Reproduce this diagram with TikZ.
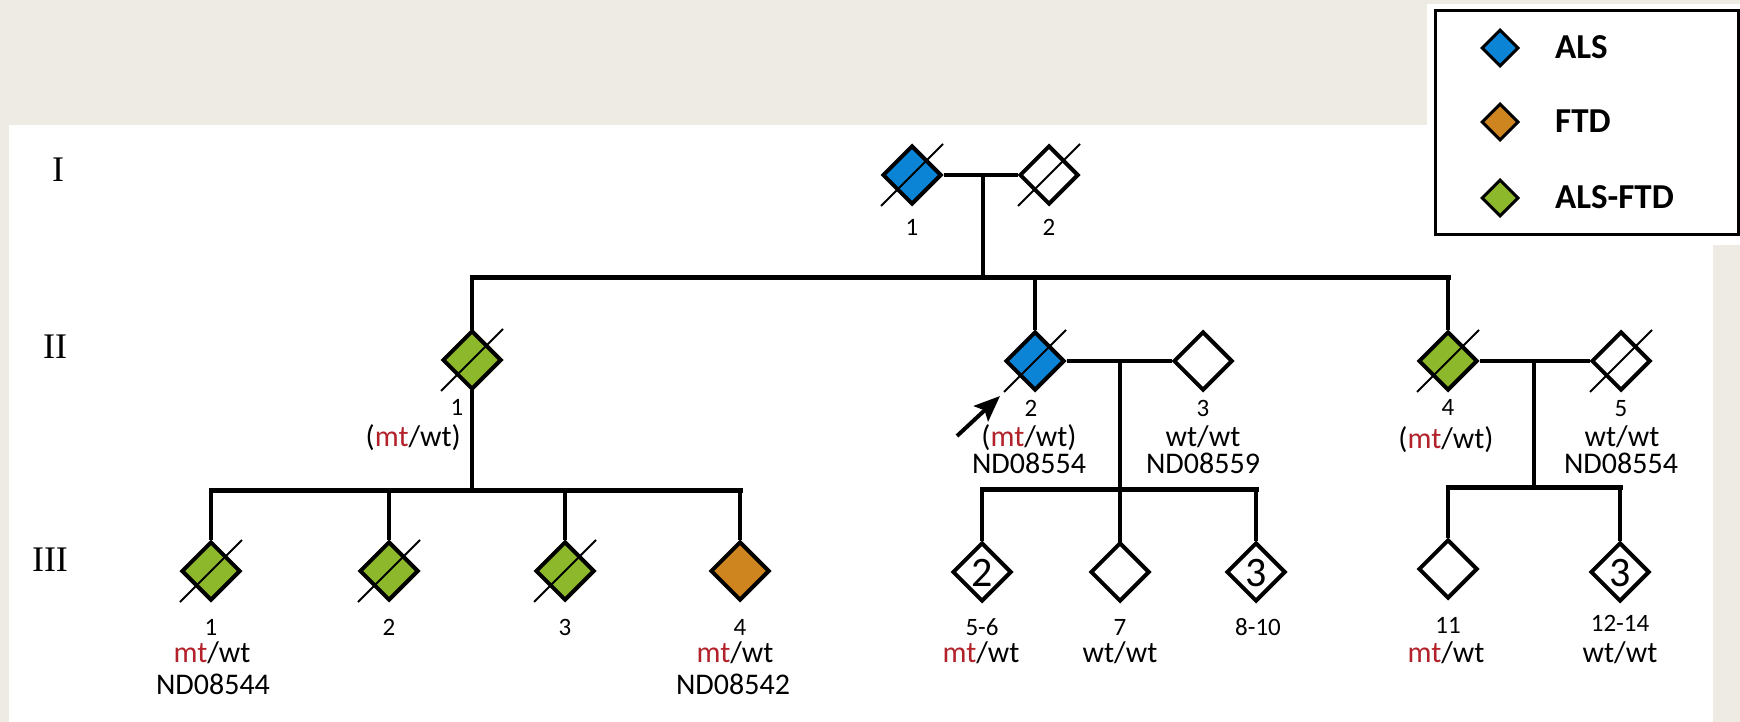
\documentclass[tikz,border=0pt]{standalone}
\usepackage{fontspec}
\setmainfont{Carlito}
\newfontfamily\genfont{Liberation Serif}
\usetikzlibrary{shapes.geometric,calc,arrows.meta}
\definecolor{bgbeige}{HTML}{EEEBE4}
\definecolor{alsblue}{HTML}{0B84D6}
\definecolor{ftdorange}{HTML}{CE851F}
\definecolor{alsftdgreen}{HTML}{8DB82B}
\definecolor{mtred}{HTML}{B3222B}
\newcommand\deceased[1]{\draw[slashline] ($(#1)+(-31,31)$) -- ($(#1)+(31,-31)$);}
\newcommand\mt{\textcolor{mtred}{mt}}
\begin{document}
\begin{tikzpicture}[x=1pt,y=-1pt,
  ind/.style={diamond,draw=black,line width=4pt,minimum width=59pt,minimum height=59pt,inner sep=0pt,fill=white},
  legdia/.style={diamond,draw=black,line width=3pt,minimum width=37pt,minimum height=37pt,inner sep=0pt},
  pline/.style={line width=4pt},
  sibline/.style={line width=5pt,line cap=rect},
  slashline/.style={line width=1.8pt},
  numlab/.style={font=\fontsize{25}{25}\selectfont,text height=16pt,text depth=0pt,inner sep=0pt},
  genolab/.style={font=\fontsize{30}{30}\selectfont,text height=19pt,text depth=0pt,inner sep=0pt},
  genlab/.style={font=\genfont\fontsize{36}{36}\selectfont,text height=24pt,text depth=0pt,inner sep=0pt},
  leglab/.style={font=\bfseries\fontsize{35}{35}\selectfont,text height=22pt,text depth=0pt,inner sep=0pt,anchor=west},
  bignum/.style={font=\fontsize{42}{42}\selectfont,text height=28pt,text depth=0pt,inner sep=0pt}
]
\useasboundingbox (0,0) rectangle (1740,722);
% background
\fill[bgbeige] (0,0) rectangle (1740,722);
\fill[white] (9,125) rectangle (1713,722);
\fill[white] (1427,4) rectangle (1740,245);
% legend
\draw[line width=3pt] (1435,11) rectangle (1738,235);
\node[legdia,fill=alsblue] (lg1) at (1500,48) {};
\node[legdia,fill=ftdorange] (lg2) at (1500,122) {};
\node[legdia,fill=alsftdgreen] (lg3) at (1500,198) {};
\node[leglab] (lt1) at (1555,48) {ALS};
\node[leglab] (lt2) at (1555,122) {FTD};
\node[leglab] (lt3) at (1555,198) {ALS-FTD};
% generation labels
\node[genlab] (g1) at (58,170) {I};
\node[genlab] (g2) at (55,346) {II};
\node[genlab] (g3) at (50,559) {III};
% coordinates for connectors
\coordinate (m1) at (983,175);
\coordinate (s1m) at (983,277);
\coordinate (s1l) at (472,277);
\coordinate (s1c) at (1035,277);
\coordinate (s1r) at (1448,277);
\coordinate (s2c) at (472,490);
\coordinate (s2l) at (211,490);
\coordinate (s2r) at (740,490);
\coordinate (m2) at (1120,361);
\coordinate (s3l) at (982,489);
\coordinate (s3r) at (1256,489);
\coordinate (s3c) at (1120,489);
\coordinate (m3) at (1534,361);
\coordinate (s4c) at (1534,487);
\coordinate (s4l) at (1448,487);
\coordinate (s4r) at (1620,487);
% lines (drawn first, diamonds cover ends)
\draw[pline] (m1) -- (s1m);
\draw[sibline] (s1l) -- (s1r);
\draw[pline] (s1l) -- (472,330);
\draw[pline] (s1c) -- (1035,330);
\draw[pline] (s1r) -- (1448,330);
\draw[pline] (472,390) -- (s2c);
\draw[sibline] (s2l) -- (s2r);
\draw[pline] (m2) -- (1120,545);
\draw[sibline] (s3l) -- (s3r);
\draw[pline] (m3) -- (s4c);
\draw[sibline] (s4l) -- (s4r);
% generation I
\node[ind,fill=alsblue] (i1) at (912,175) {};
\node[ind] (i2) at (1049,175) {};
\draw[pline] (i1) -- (i2);
\deceased{i1}\deceased{i2}
% generation II
\node[ind,fill=alsftdgreen] (ii1) at (472,360) {};
\node[ind,fill=alsblue] (ii2) at (1035,361) {};
\node[ind] (ii3) at (1203,361) {};
\node[ind,fill=alsftdgreen] (ii4) at (1448,361) {};
\node[ind] (ii5) at (1621,361) {};
\draw[pline] (ii2) -- (ii3);
\draw[pline] (ii4) -- (ii5);
\deceased{ii1}\deceased{ii2}\deceased{ii4}\deceased{ii5}
% generation III
\node[ind,fill=alsftdgreen] (iii1) at (211,571) {};
\node[ind,fill=alsftdgreen] (iii2) at (389,571) {};
\node[ind,fill=alsftdgreen] (iii3) at (565,571) {};
\node[ind,fill=ftdorange] (iii4) at (740,571) {};
\node[ind] (iii5) at (982,572) {};
\node[ind] (iii7) at (1120,572) {};
\node[ind] (iii8) at (1256,572) {};
\node[ind] (iii11) at (1448,569) {};
\node[ind] (iii12) at (1620,572) {};
\deceased{iii1}\deceased{iii2}\deceased{iii3}
\node[bignum] (n56) at (iii5) {2};
\node[bignum] (n810) at (iii8) {3};
\node[bignum] (n1214) at (iii12) {3};
% drops to generation III
\draw[pline] (iii1 |- s2l) -- (iii1.north);
\draw[pline] (iii2 |- s2l) -- (iii2.north);
\draw[pline] (iii3 |- s2l) -- (iii3.north);
\draw[pline] (iii4 |- s2l) -- (iii4.north);
\draw[pline] (s3l) -- (iii5.north);
\draw[pline] (s3r) -- (iii8.north);
\draw[pline] (s4l) -- (iii11.north);
\draw[pline] (s4r) -- (iii12.north);
% proband arrow
\coordinate (arrT) at (957,436);
\coordinate (arrH) at (1000,396);
\draw[line width=4pt,-{Stealth[length=26pt,width=21pt,inset=5pt]}] (arrT) -- (arrH);
% labels generation I
\node[numlab] (l-i1) at (912,228) {1};
\node[numlab] (l-i2) at (1049,228) {2};
% labels generation II
\node[numlab] (l-ii1) at (457,407) {1};
\node[genolab,anchor=east] (g-ii1) at (461,437) {(\mt/wt)};
\node[numlab] (l-ii2) at (1031,408) {2};
\node[genolab] (g-ii2) at (1029,437) {(\mt/wt)};
\node[genolab] (d-ii2) at (1029,464) {ND08554};
\node[numlab] (l-ii3) at (1203,408) {3};
\node[genolab] (g-ii3) at (1203,437) {wt/wt};
\node[genolab] (d-ii3) at (1203,464) {ND08559};
\node[numlab] (l-ii4) at (1448,407) {4};
\node[genolab] (g-ii4) at (1446,439) {(\mt/wt)};
\node[numlab] (l-ii5) at (1621,408) {5};
\node[genolab] (g-ii5) at (1622,437) {wt/wt};
\node[genolab] (d-ii5) at (1621,464) {ND08554};
% labels generation III
\node[numlab] (l-iii1) at (211,627) {1};
\node[genolab] (g-iii1) at (212,653) {\mt/wt};
\node[genolab] (d-iii1) at (213,685) {ND08544};
\node[numlab] (l-iii2) at (389,627) {2};
\node[numlab] (l-iii3) at (565,627) {3};
\node[numlab] (l-iii4) at (740,627) {4};
\node[genolab] (g-iii4) at (735,653) {\mt/wt};
\node[genolab] (d-iii4) at (733,685) {ND08542};
\node[numlab] (l-iii5) at (982,627) {5-6};
\node[genolab] (g-iii5) at (981,653) {\mt/wt};
\node[numlab] (l-iii7) at (1120,627) {7};
\node[genolab] (g-iii7) at (1120,653) {wt/wt};
\node[numlab] (l-iii8) at (1258,627) {8-10};
\node[numlab] (l-iii11) at (1448,625) {11};
\node[genolab] (g-iii11) at (1446,653) {\mt/wt};
\node[numlab] (l-iii12) at (1620,623) {12-14};
\node[genolab] (g-iii12) at (1620,653) {wt/wt};
\end{tikzpicture}
\end{document}
